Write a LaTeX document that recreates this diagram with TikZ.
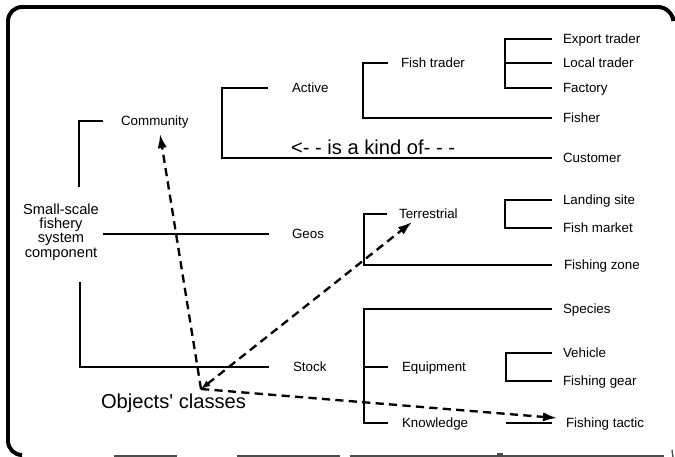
\documentclass[tikz,border=0pt]{standalone}
\usepackage{fontspec}
\setmainfont{Liberation Sans}
\usetikzlibrary{arrows.meta}
\begin{document}
\begin{tikzpicture}[x=0.03cm,y=-0.03cm,line width=1.8pt,
  lbl/.style={anchor=west,inner ysep=0pt,inner xsep=#1*0.03cm,
    text height=8.2pt,text depth=0pt,font=\fontsize{11.4}{13}\selectfont},
  lbl/.default=10,
  bigtext/.style={inner sep=0pt,font=\fontsize{17.2}{20}\selectfont},
  rootlbl/.style={align=center,inner sep=0pt,font=\fontsize{12.5}{12.2}\selectfont},
  darrow/.style={dash pattern=on 7pt off 4.5pt,line width=2pt,
    -{Latex[length=12pt,width=8pt]}},
  frame/.style={line width=3.4pt,rounded corners=12pt},
  edge/.style={gray!60!black,line width=1.2pt}]
\useasboundingbox (0,0) rectangle (675,457);

% outer frame
\draw[frame] (22,455) -| (8,7) -- (672,7) -- (673,17);
\draw[edge] (114,456) -- (177,456);
\draw[edge] (237,456) -- (340,456);
\draw[edge] (350,456) -- (664,456);
\draw[edge] (497,454) -- (503,454);
\draw[edge] (672,450) -- (673,457);

% root and first level
\node[rootlbl] (root) at (61,232) {Small-scale\\fishery\\system\\component};
\node[lbl=17] (community) at (103,121) {Community};
\node[lbl=22] (geos) at (269,234) {Geos};
\node[lbl=23] (stock) at (269,367) {Stock};
\draw (79,187) |- (community.west);
\draw (geos.west) -- ++(-166,0);
\draw (80,282) |- (stock.west);

% community branch
\node[lbl=23] (active) at (268,88) {Active};
\node[lbl] (customer) at (552,158) {Customer};
\draw (active.west) -- ++(-46,0) |- (customer.west);
\node[lbl=12] (fishtrader) at (388,63) {Fish trader};
\node[lbl] (fisher) at (552,118) {Fisher};
\draw (fishtrader.west) -- ++(-25,0) |- (fisher.west);
\node[lbl] (exportT) at (552,39) {Export trader};
\node[lbl] (localT) at (552,63) {Local trader};
\node[lbl] (factory) at (552,88) {Factory};
\draw (exportT.west) -- ++(-47,0) |- (factory.west);
\draw (localT.west) -- ++(-47,0);
\node[bigtext,anchor=base west] (kindof) at (290,155) {<- - is a kind of- - -};

% geos branch
\node[lbl=11] (terr) at (387,214) {Terrestrial};
\node[lbl=11] (fzone) at (552,265) {Fishing zone};
\draw (terr.west) -- ++(-23,0) |- (fzone.west);
\node[lbl] (landing) at (552,200) {Landing site};
\node[lbl] (fmarket) at (552,228) {Fish market};
\draw (landing.west) -- ++(-47,0) |- (fmarket.west);

% stock branch
\node[lbl] (species) at (552,309) {Species};
\node[lbl=13] (equip) at (388,367) {Equipment};
\node[lbl=13] (know) at (388,423) {Knowledge};
\draw (species.west) -- ++(-188,0) |- (know.west);
\draw (equip.west) -- ++(-24,0);
\node[lbl] (vehicle) at (552,353) {Vehicle};
\node[lbl] (fgear) at (552,381) {Fishing gear};
\draw (vehicle.west) -- ++(-46,0) |- (fgear.west);
\node[lbl=13] (ftactic) at (552,423) {Fishing tactic};
\draw (ftactic.west) -- ++(-46,0);

% object classes and their links
\node[bigtext,anchor=base west] (objcls) at (100,408) {Objects\textquotesingle\ classes};
\coordinate (hub) at (201,389);
\coordinate (toComm) at (160,134);
\coordinate (toTerr) at (412,222);
\coordinate (toTactic) at (557,418);
\draw[darrow] (hub) -- (toComm);
\draw[darrow,{Latex[length=8pt,width=6pt]}-{Latex[length=12pt,width=8pt]}] (hub) -- (toTerr);
\draw[darrow] (hub) -- (toTactic);
\end{tikzpicture}
\end{document}
